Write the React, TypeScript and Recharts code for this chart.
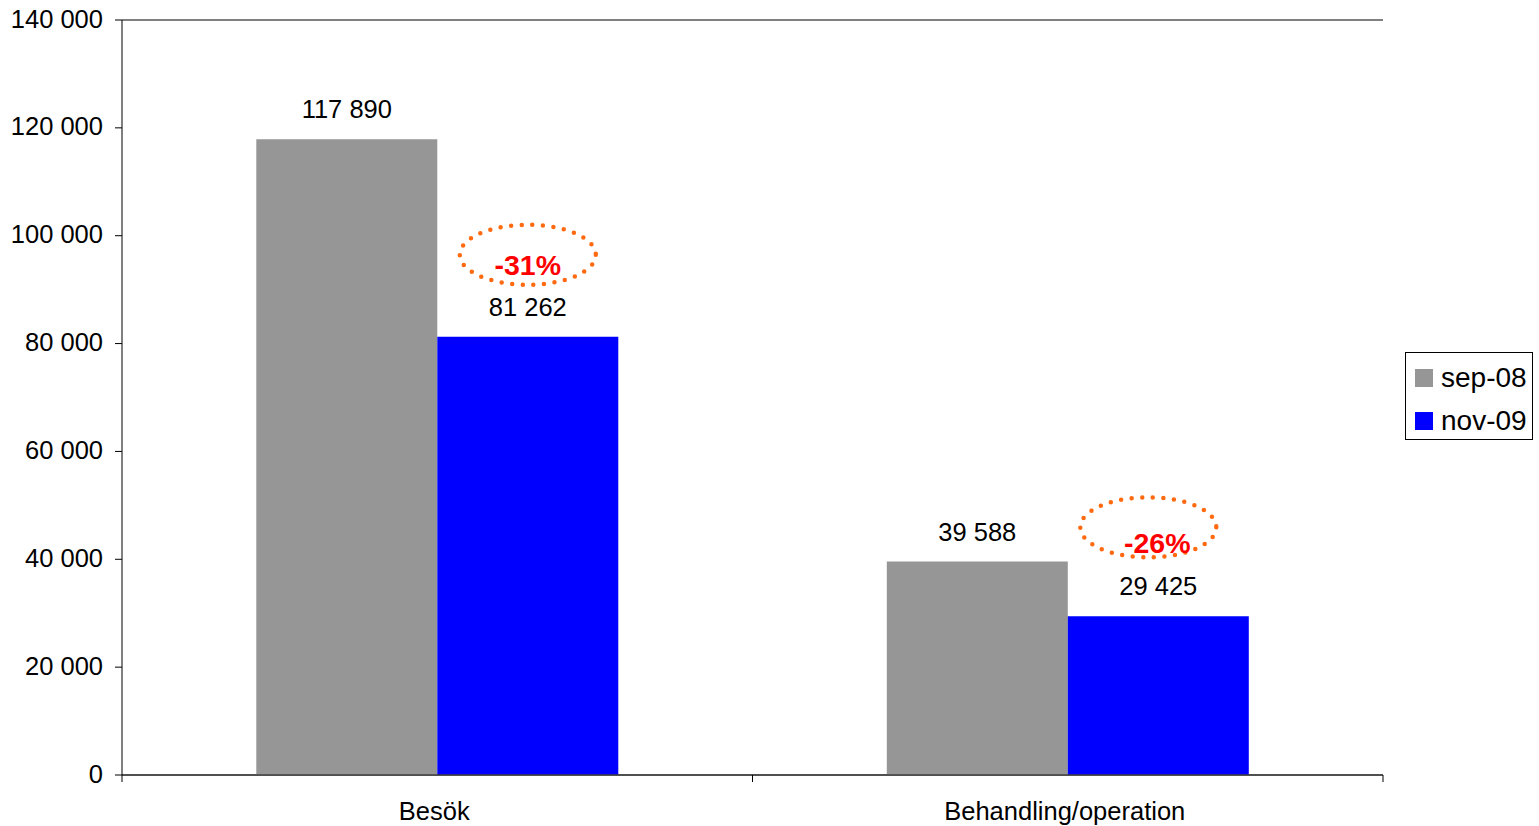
import React from "react";
import {
  BarChart,
  Bar,
  XAxis,
  YAxis,
  CartesianGrid,
  Legend,
  LabelList,
  ReferenceLine,
} from "recharts";

const categories = ["Besök", "Behandling/operation"];
const seriesNames = ["sep-08", "nov-09"];
const sep08 = [117890, 39588];
const nov09 = [81262, 29425];
const yTicks = [0, 20000, 40000, 60000, 80000, 100000, 120000, 140000];

const data = categories.map((c, i) => ({ name: c, sep08: sep08[i], nov09: nov09[i] }));

const FONT = "'Liberation Sans', Arial, sans-serif";
const FS = 25.5;
const W = 1539;
const H = 826;
const MARGIN = { top: 20, right: 156, bottom: 0, left: 0 };
const YAXIS_W = 122;
const XAXIS_H = 51;
const PLOT_W = W - MARGIN.right - YAXIS_W;
const BAND_W = PLOT_W / categories.length;

// annotation placement relative to the top-centre of each nov-09 bar
const annotationLayout = [
  { ex: 0, ey: -82, tx: 0, ty: -62 },
  { ex: -10, ey: -89, tx: -1, ty: -63 },
];

const fmt = (v: number) => String(v).replace(/\B(?=(\d{3})+(?!\d))/g, " ");

const ValueLabel = (props: any) => {
  const { x, y, width, value } = props;
  return (
    <text
      x={x + width / 2}
      y={y - 21}
      textAnchor="middle"
      fontFamily={FONT}
      fontSize={FS}
      fill="#000"
    >
      {fmt(value)}
    </text>
  );
};

const NovLabel = (props: any) => {
  const { x, y, width, value, index } = props;
  const cx = x + width / 2;
  const lay = annotationLayout[index];
  const pct = Math.round(((nov09[index] - sep08[index]) / sep08[index]) * 100);
  return (
    <g>
      <text
        x={cx}
        y={y - 21}
        textAnchor="middle"
        fontFamily={FONT}
        fontSize={FS}
        fill="#000"
      >
        {fmt(value)}
      </text>
      <ellipse
        cx={cx + lay.ex}
        cy={y + lay.ey}
        rx={68}
        ry={30}
        fill="none"
        stroke="#FF6A10"
        strokeWidth={4.5}
        strokeDasharray="0 10.6"
        strokeLinecap="round"
      />
      <text
        x={cx + lay.tx}
        y={y + lay.ty}
        textAnchor="middle"
        fontFamily={FONT}
        fontSize={28.5}
        fontWeight="bold"
        fill="#FF0000"
      >
        {`${pct}%`}
      </text>
    </g>
  );
};

const XTick = (props: any) => {
  const { x, y, payload, index, visibleTicksCount } = props;
  const axisY = y - 7;
  const left = x - BAND_W / 2;
  const right = x + BAND_W / 2;
  return (
    <g>
      <line x1={left} x2={left} y1={axisY} y2={axisY + 7} stroke="#000" strokeWidth={1} />
      {index === visibleTicksCount - 1 && (
        <line x1={right} x2={right} y1={axisY} y2={axisY + 7} stroke="#000" strokeWidth={1} />
      )}
      <text
        x={x - 3}
        y={axisY + 45}
        textAnchor="middle"
        fontFamily={FONT}
        fontSize={FS}
        fill="#000"
      >
        {payload.value}
      </text>
    </g>
  );
};

const YTick = (props: any) => {
  const { x, y, payload } = props;
  return (
    <text
      x={x}
      y={y + 7.5}
      textAnchor="end"
      fontFamily={FONT}
      fontSize={FS}
      fill="#000"
    >
      {fmt(payload.value)}
    </text>
  );
};

const LegendBox = () => {
  const colors = ["#969696", "#0000FF"];
  return (
    <svg width={128} height={88} style={{ display: "block" }}>
      <rect x={0.5} y={0.5} width={127} height={87} fill="#fff" stroke="#000" strokeWidth={1} />
      {seriesNames.map((n, i) => (
        <g key={n}>
          <rect x={10} y={17 + i * 43} width={18} height={18} fill={colors[i]} />
          <text
            x={36}
            y={35 + i * 43}
            fontFamily={FONT}
            fontSize={28}
            fill="#000"
          >
            {n}
          </text>
        </g>
      ))}
    </svg>
  );
};

export default function App() {
  return (
    <div style={{ position: "absolute", left: 0, top: 0, width: W, height: H, background: "#fff" }}>
      <BarChart
        width={W}
        height={H}
        data={data}
        margin={MARGIN}
        barCategoryGap="21.3%"
        barGap={0}
      >
        <CartesianGrid horizontal vertical={false} stroke="#000" strokeWidth={1} />
        <XAxis
          dataKey="name"
          height={XAXIS_H}
          tickLine={false}
          tickSize={7}
          tickMargin={0}
          axisLine={{ stroke: "#404040", strokeWidth: 1.5 }}
          tick={<XTick />}
          interval={0}
        />
        <YAxis
          yAxisId="left"
          width={YAXIS_W}
          domain={[0, 140000]}
          ticks={yTicks}
          interval={0}
          tickSize={7}
          tickMargin={12}
          tick={<YTick />}
          tickLine={{ stroke: "#000" }}
          axisLine={{ stroke: "#000" }}
        />
        <YAxis
          yAxisId="right"
          orientation="right"
          width={0}
          domain={[0, 140000]}
          tick={false}
          tickLine={false}
          axisLine={{ stroke: "#999", strokeWidth: 1.5 }}
        />
        <ReferenceLine yAxisId="left" y={140000} stroke="#808080" strokeWidth={1.5} />
        <Legend
          layout="horizontal"
          align="center"
          verticalAlign="middle"
          content={<LegendBox />}
          wrapperStyle={{ left: 1405, top: 352, width: 128, height: 88 }}
        />
        <Bar yAxisId="left" dataKey="sep08" name={seriesNames[0]} fill="#969696" isAnimationActive={false}>
          <LabelList dataKey="sep08" content={<ValueLabel />} />
        </Bar>
        <Bar yAxisId="left" dataKey="nov09" name={seriesNames[1]} fill="#0000FF" isAnimationActive={false}>
          <LabelList dataKey="nov09" content={<NovLabel />} />
        </Bar>
      </BarChart>
    </div>
  );
}
